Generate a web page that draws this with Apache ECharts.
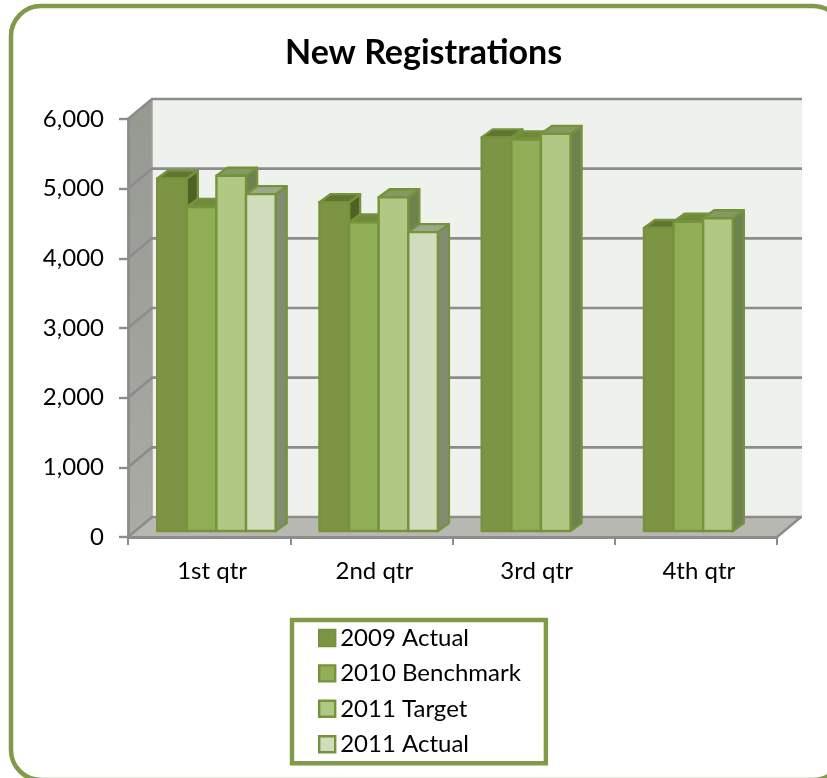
<!DOCTYPE html>
<html><head><meta charset="utf-8">
<style>html,body{margin:0;padding:0;background:#fff;overflow:hidden}#c{width:827px;height:778px}</style>
<script src="https://cdn.jsdelivr.net/npm/echarts@6/dist/echarts.min.js"></script>
</head><body><div id="c"></div>
<script>
const categories = ['1st qtr','2nd qtr','3rd qtr','4th qtr'];
const actual2009 = [5060,4720,5650,4350];
const benchmark2010 = [4650,4430,5620,4440];
const target2011 = [5100,4790,5700,4490];
const actual2011 = [4835,4290,null,null];
const yTicks = [0,1000,2000,3000,4000,5000,6000];
const FONT = 'Lato, "Open Sans", sans-serif';
const EDGE = '#76923c', GRID = '#8c8c8c';
const WALL = {dx:24, dy:-20};
const BAR = {dx:11, dy:-8, baseLift:6, startFrac:0.32, unitFrac:0.1825};
const palette = [
  {front:'#7d9445', top:'#5f7531', side:'#4f6126'},
  {front:'#90ae56', top:'#6f8b39', side:'#5f7732'},
  {front:'#b0c883', top:'#839b61', side:'#6e8250'},
  {front:'#d0dcbb', top:'#9ba98b', side:'#838c73'}
];
function poly(points, fill, stroke, w){
  return {type:'polygon', shape:{points}, style:{fill, stroke:stroke||null, lineWidth:w||0, lineJoin:'round'}, silent:true};
}
function barRender(idx){
  return function(params, api){
    const v = api.value(1);
    if (v == null || isNaN(v)) return;
    const c = palette[idx];
    const p = api.coord([api.value(0), v]);
    const zero = api.coord([api.value(0), 0]);
    const band = api.size([1,0])[0];
    const x0 = p[0] - band*BAR.startFrac + idx*band*BAR.unitFrac;
    const x1 = x0 + band*BAR.unitFrac;
    const yT = p[1] - BAR.baseLift, yB = zero[1] - BAR.baseLift;
    const d = BAR.dx, e = BAR.dy;
    return {type:'group', children:[
      poly([[x1,yT],[x1+d,yT+e],[x1+d,yB+e],[x1,yB]], c.side, EDGE, 2.4),
      poly([[x0,yT],[x0+d,yT+e],[x1+d,yT+e],[x1,yT]], c.top, EDGE, 2.4),
      poly([[x0,yT],[x1,yT],[x1,yB],[x0,yB]], c.front, EDGE, 2.4)
    ]};
  };
}
function wallRender(params, api){
  const s = params.coordSys, L = s.x, R = s.x+s.width, T = s.y, B = s.y+s.height;
  const d = WALL.dx, e = WALL.dy;
  return {type:'group', children:[
    poly([[L+d,T+e],[R+d+1,T+e],[R+d+1,B+e],[L+d,B+e]], '#eff2ec'),
    poly([[L,T],[L+d,T+e],[L+d,B+e],[L,B]], {type:'linear',x:0,y:0,x2:0,y2:1,colorStops:[{offset:0,color:'#969992'},{offset:1,color:'#a9aba4'}]}),
    poly([[L,B],[L+d,B+e],[R+d,B+e],[R,B]], '#b6b8b1'),
    {type:'line', shape:{x1:L+d,y1:T+e,x2:L+d,y2:B+e}, style:{stroke:'#a0a29b',lineWidth:1.5}, silent:true},
    {type:'line', shape:{x1:R,y1:B,x2:R+d,y2:B+e}, style:{stroke:GRID,lineWidth:2.5}, silent:true}
  ]};
}
function gridRender(params, api){
  const s = params.coordSys, L = s.x, R = s.x+s.width;
  const y = api.coord([0, api.value(0)])[1];
  const d = WALL.dx, e = WALL.dy;
  return {type:'polyline', shape:{points:[[L,y],[L+d,y+e],[R+d+1,y+e]]}, style:{stroke:GRID,lineWidth:2.6,fill:null}, silent:true};
}
function barSeries(name, values, idx){
  return {name, type:'custom', coordinateSystem:'cartesian2d', renderItem:barRender(idx),
    itemStyle:{color:palette[idx].front}, encode:{x:0,y:1}, clip:false,
    data:values.map((v,i)=>[i, v==null?'-':v])};
}
const chart = echarts.init(document.getElementById('c'), null, {renderer:'canvas'});
chart.setOption({
  animation:false,
  backgroundColor:'#ffffff',
  textStyle:{fontFamily:FONT},
  graphic:[{type:'rect', z:-1, shape:{x:11,y:6,width:832,height:774,r:30}, style:{fill:'#fff',stroke:'#7f9a48',lineWidth:4.5}}],
  title:{text:'New Registrations', left:285, top:36, padding:0,
    textStyle:{fontFamily:FONT,fontSize:34,fontWeight:'bold',color:'#000'}},
  grid:{left:128, top:119, width:649, height:418, containLabel:false},
  xAxis:{type:'category', data:categories, z:3,
    axisLine:{lineStyle:{color:GRID,width:2.8}},
    axisTick:{show:true,alignWithLabel:false,length:8,lineStyle:{color:GRID,width:2}},
    axisLabel:{fontFamily:FONT,fontSize:24,color:'#000',margin:22,padding:[0,0,0,6]}},
  yAxis:{type:'value', min:0, max:6000, interval:1000, z:3,
    axisLine:{show:true,lineStyle:{color:GRID,width:2.8}},
    axisTick:{show:true,length:9,lineStyle:{color:GRID,width:2.4}},
    splitLine:{show:false},
    axisLabel:{fontFamily:FONT,fontSize:24,color:'#000',margin:24,
      formatter:v=>v.toLocaleString('en-US')}},
  legend:{orient:'vertical', left:292, top:620, width:255, itemWidth:16, itemHeight:16, itemGap:11.4, icon:'rect',
    padding:[6,25,7,26], backgroundColor:'#fff', borderColor:'#7f9a48', borderWidth:4.4,
    itemStyle:{borderColor:EDGE,borderWidth:2.4},
    textStyle:{fontFamily:FONT,fontSize:24,color:'#000'},
    data:['2009 Actual','2010 Benchmark','2011 Target','2011 Actual']},
  series:[
    {name:'walls',type:'custom',coordinateSystem:'cartesian2d',renderItem:wallRender,data:[[0,0]],clip:false,silent:true},
    {name:'grid',type:'custom',coordinateSystem:'cartesian2d',renderItem:gridRender,data:yTicks.map(v=>[v]),encode:{y:0},clip:false,silent:true},
    barSeries('2009 Actual',actual2009,0),
    barSeries('2010 Benchmark',benchmark2010,1),
    barSeries('2011 Target',target2011,2),
    barSeries('2011 Actual',actual2011,3)
  ]
});
</script></body></html>
